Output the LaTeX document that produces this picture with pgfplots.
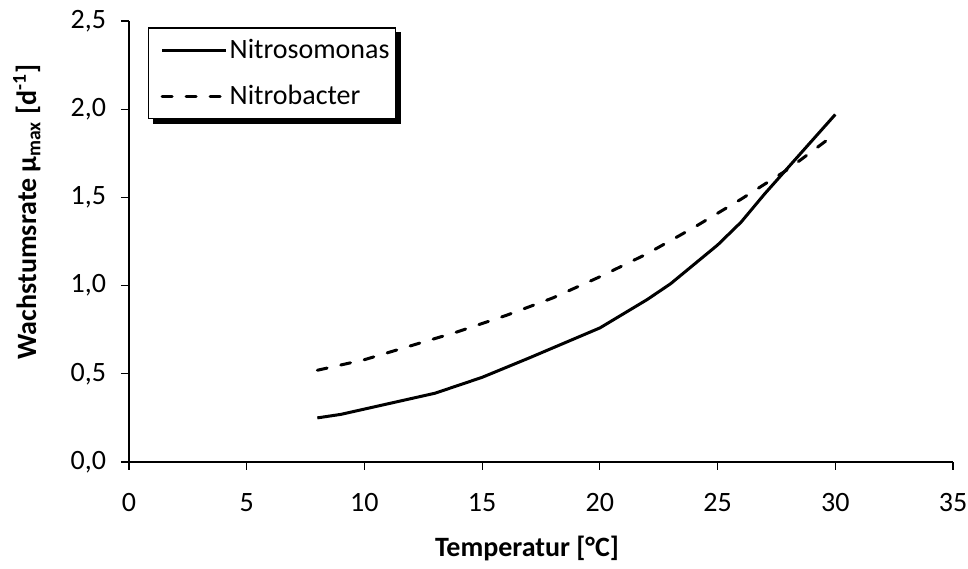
\documentclass[border=0pt]{standalone}
\usepackage{fontspec}
\setmainfont{Carlito}
\usepackage{pgfplots}
\pgfplotsset{compat=1.18}

\pgfdeclarelayer{shadowlayer}
\pgfsetlayers{shadowlayer,main}

\pgfplotstableread{
T    mu
8    0.25
9    0.27
13   0.39
15   0.48
17   0.59
20   0.76
22   0.92
23   1.01
24   1.12
25   1.23
26   1.36
27   1.52
28   1.67
29   1.82
30   1.97
}\nitrosomonas

\pgfplotstableread{
T    mu
8    0.52
10   0.58
12   0.66
14   0.74
16   0.83
18   0.93
20   1.05
22   1.18
24   1.33
26   1.49
28   1.66
30   1.86
}\nitrobacter

\begin{document}
\begin{tikzpicture}
\begin{axis}[
  scale only axis,
  width=412bp, height=220.5bp,
  xmin=0, xmax=35, ymin=0, ymax=2.5,
  xtick={0,5,...,35},
  ytick={0,0.5,...,2.5},
  axis x line*=bottom,
  axis y line*=left,
  axis line style={line width=0.75bp, -},
  tick align=outside,
  major tick length=4bp,
  tick style={line width=0.6bp, black},
  font=\fontsize{14bp}{16bp}\selectfont,
  /pgf/number format/assume math mode=true,
  yticklabel style={xshift=-4bp, /pgf/number format/.cd, use comma, fixed, fixed zerofill, precision=1},
  xticklabel style={yshift=-8bp},
  xlabel={\textbf{Temperatur [°C]}},
  ylabel={\textbf{Wachstumsrate µ\textsubscript{max} [d\textsuperscript{-1}]}},
  xlabel style={at={(axis description cs:0.483,-0.195)}, anchor=center},
  ylabel style={at={(axis description cs:-0.124,0.567)}, anchor=center, rotate=0},
  legend style={
    name=leg,
    at={(axis description cs:0.023,0.986)}, anchor=north west,
    draw=black, line width=0.75bp, fill=white,
    inner xsep=2bp, inner ysep=3.5bp,
    row sep=8bp,
    nodes={inner xsep=1bp, inner ysep=2bp, font=\fontsize{14bp}{16bp}\selectfont},
  },
  legend cell align=left,
  legend image code/.code={\path (-4bp,0bp); \draw[#1] (0bp,0bp) -- (32bp,0bp);},
]
\addplot[black, line width=1.5bp, line join=round] table[x=T, y=mu] {\nitrosomonas};
\addlegendentry{Nitrosomonas}
\addplot[black, line width=1.5bp, line cap=round, dash pattern=on 5bp off 7bp] table[x=T, y=mu] {\nitrobacter};
\addlegendentry{Nitrobacter}
\end{axis}
% black drop shadow of the legend box
\begin{pgfonlayer}{shadowlayer}
\fill[black] ([shift={(2.5bp,-2.5bp)}]leg.south west) rectangle ([shift={(2.5bp,-2.5bp)}]leg.north east);
\end{pgfonlayer}
\pgfresetboundingbox
\path ([shift={(-64.5bp,-53.5bp)}]current axis.south west) rectangle ([shift={(7.5bp,10.5bp)}]current axis.north east);
\end{tikzpicture}
\end{document}
